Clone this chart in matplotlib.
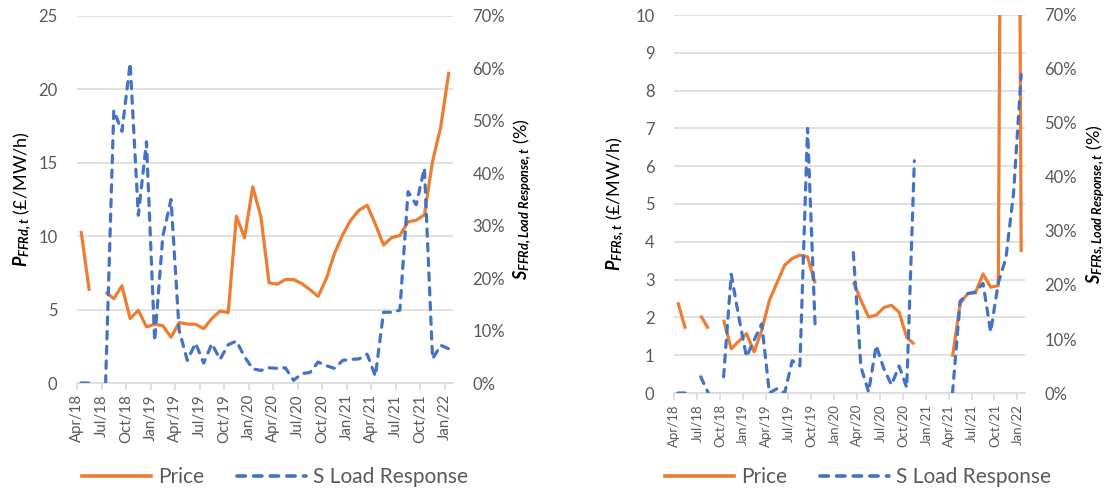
import numpy as np
import matplotlib
matplotlib.use("Agg")
import matplotlib.pyplot as plt
from matplotlib.lines import Line2D
from matplotlib.ticker import PercentFormatter, MultipleLocator

# ---------------- data ----------------
quarter_labels = ["Apr/18", "Jul/18", "Oct/18", "Jan/19", "Apr/19", "Jul/19", "Oct/19",
                  "Jan/20", "Apr/20", "Jul/20", "Oct/20", "Jan/21", "Apr/21", "Jul/21",
                  "Oct/21", "Jan/22"]
nan = np.nan
# monthly values, Apr/18 ... Jan/22 (46 months)
price_ffrd = [10.36, 6.27, nan, 6.2, 5.75, 6.62, 4.39, 4.95, 3.82, 4.0, 3.9, 3.12,
              4.12, 4.02, 4.0, 3.7, 4.39, 4.9, 4.8, 11.36, 9.89, 13.36, 11.32, 6.82,
              6.73, 7.05, 7.05, 6.77, 6.36, 5.9, 7.11, 8.82, 10.1, 11.1, 11.77, 12.11,
              10.82, 9.4, 9.91, 10.05, 10.98, 11.09, 11.45, 15.1, 17.45, 21.2]
sload_ffrd = [0, 0, nan, 0, 52, 48, 61, 32, 46, 8, 28, 35,
              10, 4.3, 7.6, 3.8, 7.5, 4.5, 7.3, 8.0, 5.0, 2.7, 2.4, 2.9,
              2.8, 2.9, 0.5, 1.8, 2.0, 4.0, 3.3, 2.8, 4.3, 4.5, 4.6, 5.5,
              1.3, 13.5, 13.5, 13.9, 36.5, 34.0, 41.0, 4.6, 7.2, 6.5]
price_ffrs = [2.4, 1.7, nan, 2.05, 1.7, nan, 1.94, 1.17, 1.37, 1.57, 1.09, 1.66,
              2.45, 2.92, 3.38, 3.56, 3.65, 3.6, 2.9, nan, nan, nan, nan, 2.94,
              2.45, 2.01, 2.06, 2.26, 2.32, 2.14, 1.47, 1.29, nan, nan, nan, nan,
              0.96, 2.37, 2.63, 2.65, 3.15, 2.8, 2.84, 40.0, 45.0, 3.73]
sload_ffrs = [0, 0, nan, 3, 0, nan, 3, 22, 14, 6.7, 9.8, 12.8,
              0, 0.8, 0, 6.0, 5.0, 49, 12.2, nan, nan, nan, nan, 26,
              4.8, 0.2, 8.8, 4.5, 1.5, 5.0, 1.0, 43, nan, nan, nan, nan,
              0, 17, 18.4, 18.7, 20.3, 11.3, 20.4, 25, 37, 59]

# ---------------- style ----------------
ORANGE = "#ED7D31"
BLUE = "#4472C4"
GRID = "#D9D9D9"
TXT = "#595959"
FONT = "Lato"
plt.rcParams["font.family"] = [FONT, "DejaVu Sans"]
plt.rcParams["mathtext.fontset"] = "custom"
plt.rcParams["mathtext.rm"] = FONT
plt.rcParams["mathtext.it"] = FONT + ":italic"
plt.rcParams["mathtext.bf"] = FONT + ":bold"
plt.rcParams["mathtext.bfit"] = FONT + ":bold:italic"

fig = plt.figure(figsize=(11.09, 4.92), dpi=100)

W, H = 1109.0, 492.0


def make_axes(l, r, t, b):
    return fig.add_axes([l / W, 1 - b / H, (r - l) / W, (b - t) / H])


def draw(ax, price, sload, ymax, ystep, xfs, ylab, y2lab, lab_x, lab2_x):
    n = len(price)
    x = np.arange(n) + 0.5
    ax.plot(x, price, color=ORANGE, lw=2.3, solid_capstyle="butt", zorder=3)
    ax.set_xlim(0, 46)
    ax.set_ylim(0, ymax)
    ax.yaxis.set_major_locator(MultipleLocator(ystep))
    ax.grid(axis="y", color=GRID, lw=1.1)
    ax.set_axisbelow(True)
    for s in ["top", "left", "right"]:
        ax.spines[s].set_visible(False)
    ax.spines["bottom"].set_color(GRID)
    ax.spines["bottom"].set_linewidth(1.1)
    ax.set_xticks(np.arange(0, 46, 3))
    ax.set_xticklabels(quarter_labels, rotation=90, fontsize=xfs, color=TXT)
    ax.tick_params(axis="x", length=5, color=GRID, width=1.1, pad=3)
    ax.tick_params(axis="y", length=0, labelsize=12, labelcolor=TXT, pad=14)

    ax2 = ax.twinx()
    ax2.plot(x, np.array(sload, dtype=float) / 100.0, color=BLUE, lw=2.3,
             linestyle=(0, (2.3, 2.3)), dash_capstyle="round", zorder=3)
    ax2.set_ylim(0, 0.7)
    ax2.yaxis.set_major_locator(MultipleLocator(0.1))
    ax2.yaxis.set_major_formatter(PercentFormatter(1.0, decimals=0))
    for s in ax2.spines.values():
        s.set_visible(False)
    ax2.tick_params(axis="y", length=0, labelsize=12, labelcolor=TXT, pad=14)

    ax.set_ylabel(ylab, fontsize=13, color="black")
    ax.yaxis.set_label_coords(lab_x, 0.5)
    ax2.set_ylabel(y2lab, fontsize=13, color="black", rotation=90)
    ax2.yaxis.set_label_coords(lab2_x, 0.5)
    return ax2


axL = make_axes(77, 453, 16, 383)
draw(axL, price_ffrd, sload_ffrd, 25, 5, 10.8,
     r"$\mathbfit{P}_{\mathbfit{FFRd,t}}$ (£/MW/h)",
     r"$\mathbfit{S}_{\mathbfit{FFRd,Load\ Response,t}}$ (%)",
     -0.115, 1.155)

axR = make_axes(674, 1025, 15, 393)
draw(axR, price_ffrs, sload_ffrs, 10, 1, 9.5,
     r"$\mathbfit{P}_{\mathbfit{FFRs,t}}$ (£/MW/h)",
     r"$\mathbfit{S}_{\mathbfit{FFRs,Load\ Response,t}}$ (%)",
     -0.135, 1.17)

handles = [Line2D([], [], color=ORANGE, lw=2.6),
           Line2D([], [], color=BLUE, lw=2.6, linestyle=(0, (2.3, 2.3)), dash_capstyle="round")]
for cx in (275.0, 858.0):
    leg = fig.legend(handles, ["Price", "S Load Response"], loc="center",
                     bbox_to_anchor=(cx / W, 1 - 477 / H), ncol=2, frameon=False,
                     fontsize=15, handlelength=3.3, handletextpad=0.35,
                     columnspacing=1.6)
    for t in leg.get_texts():
        t.set_color(TXT)

fig.savefig("out.png", dpi=100)
